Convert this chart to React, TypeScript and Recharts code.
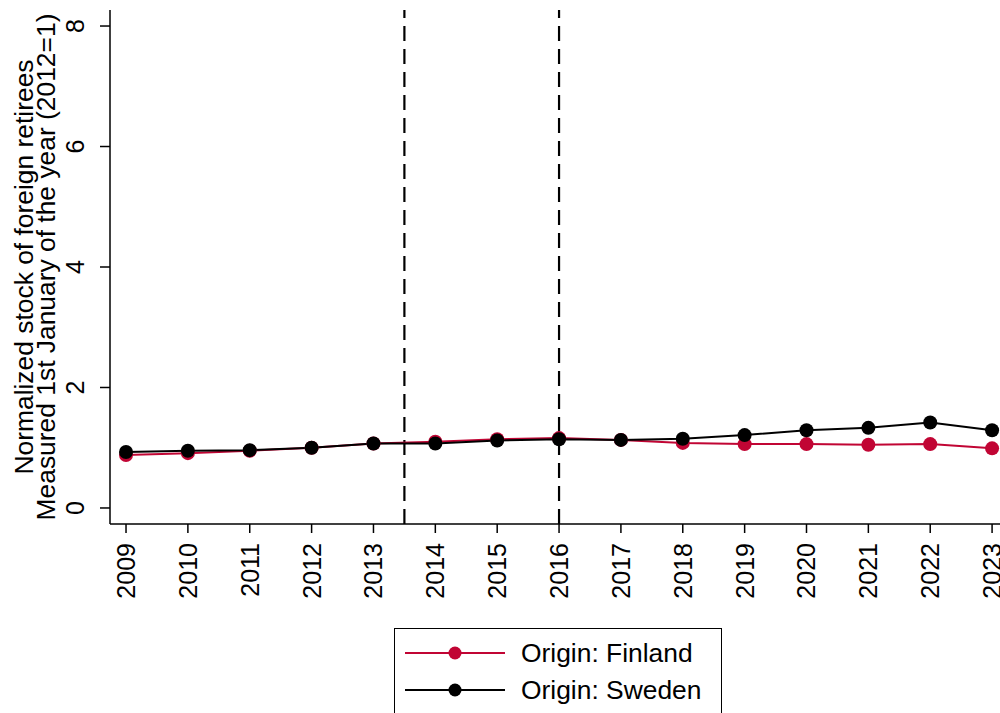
import { LineChart, Line, XAxis, YAxis, ReferenceLine, Legend } from 'recharts';

const years = [2009, 2010, 2011, 2012, 2013, 2014, 2015, 2016, 2017, 2018, 2019, 2020, 2021, 2022, 2023];
const finland = [0.88, 0.91, 0.95, 1.0, 1.07, 1.1, 1.14, 1.16, 1.13, 1.08, 1.06, 1.06, 1.05, 1.06, 0.99];
const sweden = [0.93, 0.95, 0.96, 1.0, 1.07, 1.07, 1.12, 1.14, 1.13, 1.15, 1.21, 1.29, 1.33, 1.42, 1.29];
const yTicks = [0, 2, 4, 6, 8];
const policyBreaks = [2013.5, 2016];

const FONT = '"Liberation Sans", Arial, Helvetica, sans-serif';
const RED = '#c10534';

const data = years.map((year, i) => ({ year, finland: finland[i], sweden: sweden[i] }));

const XTick = ({ x, y, payload }: any) => (
    <text
        transform={`translate(${x},${y}) rotate(-90)`}
        textAnchor="end"
        dy="0.36em"
        fontFamily={FONT}
        fontSize={25}
        fill="#000"
    >
        {payload.value}
    </text>
);

const YTick = ({ x, y, payload }: any) => (
    <text
        transform={`translate(${x},${y}) rotate(-90)`}
        textAnchor="middle"
        fontFamily={FONT}
        fontSize={25}
        fill="#000"
    >
        {payload.value}
    </text>
);

// two-line axis title, centred on the plot height
const YTitle = () => (
    <g fontFamily={FONT} fontSize={26.4} fill="#000">
        <text transform="translate(33,267) rotate(-90)" textAnchor="middle">
            Normalized stock of foreign retirees
        </text>
        <text transform="translate(55,267) rotate(-90)" textAnchor="middle">
            Measured 1st January of the year (2012=1)
        </text>
    </g>
);

const LegendBox = ({ payload }: any) => (
    <div
        style={{
            position: 'relative',
            width: 328,
            height: 110,
            border: '1.5px solid #000',
            boxSizing: 'border-box',
            background: '#fff',
            fontFamily: FONT,
        }}
    >
        {(payload || []).map((entry: any, i: number) => (
            <div
                key={entry.value}
                style={{
                    position: 'absolute',
                    left: 10,
                    top: 24 + i * 36.6 - 12,
                    height: 24,
                    display: 'flex',
                    alignItems: 'center',
                }}
            >
                <svg width={100} height={24}>
                    <line x1={0} y1={12} x2={100} y2={12} stroke={entry.color} strokeWidth={2} />
                    <circle cx={50} cy={12} r={6.5} fill={entry.color} />
                </svg>
                <span style={{ marginLeft: 16, fontSize: 26.4, color: '#000', lineHeight: '24px' }}>
                    {entry.value}
                </span>
            </div>
        ))}
    </div>
);

export default function App() {
    return (
        <div style={{ position: 'absolute', left: 0, top: 0, width: 1000, height: 713, overflow: 'hidden', background: '#fff' }}>
            <LineChart width={1000} height={713} data={data} margin={{ top: 10, right: 0, bottom: 89, left: 0 }}>
                <XAxis
                    dataKey="year"
                    type="number"
                    domain={[2008.741, 2023.128]}
                    ticks={years}
                    interval={0}
                    height={100}
                    stroke="#000"
                    strokeWidth={1.5}
                    tickSize={9}
                    tickMargin={10}
                    tick={<XTick />}
                    allowDataOverflow
                />
                <YAxis
                    type="number"
                    domain={[-0.266, 8.266]}
                    ticks={yTicks}
                    width={110}
                    stroke="#000"
                    strokeWidth={1.5}
                    tickSize={10}
                    tickMargin={16}
                    tick={<YTick />}
                    label={<YTitle />}
                    allowDataOverflow
                />
                {policyBreaks.map((b) => (
                    <ReferenceLine key={b} x={b} stroke="#000" strokeWidth={2.2} strokeDasharray="15 8" />
                ))}
                <Legend
                    layout="horizontal"
                    verticalAlign="middle"
                    align="center"
                    content={<LegendBox />}
                    wrapperStyle={{ left: 394, top: 628, width: 328, height: 110 }}
                />
                <Line
                    type="linear"
                    dataKey="finland"
                    name="Origin: Finland"
                    stroke={RED}
                    strokeWidth={2}
                    dot={{ r: 7, fill: RED, stroke: 'none' }}
                    activeDot={false}
                    isAnimationActive={false}
                />
                <Line
                    type="linear"
                    dataKey="sweden"
                    name="Origin: Sweden"
                    stroke="#000"
                    strokeWidth={2}
                    dot={{ r: 7, fill: '#000', stroke: 'none' }}
                    activeDot={false}
                    isAnimationActive={false}
                />
            </LineChart>
        </div>
    );
}
